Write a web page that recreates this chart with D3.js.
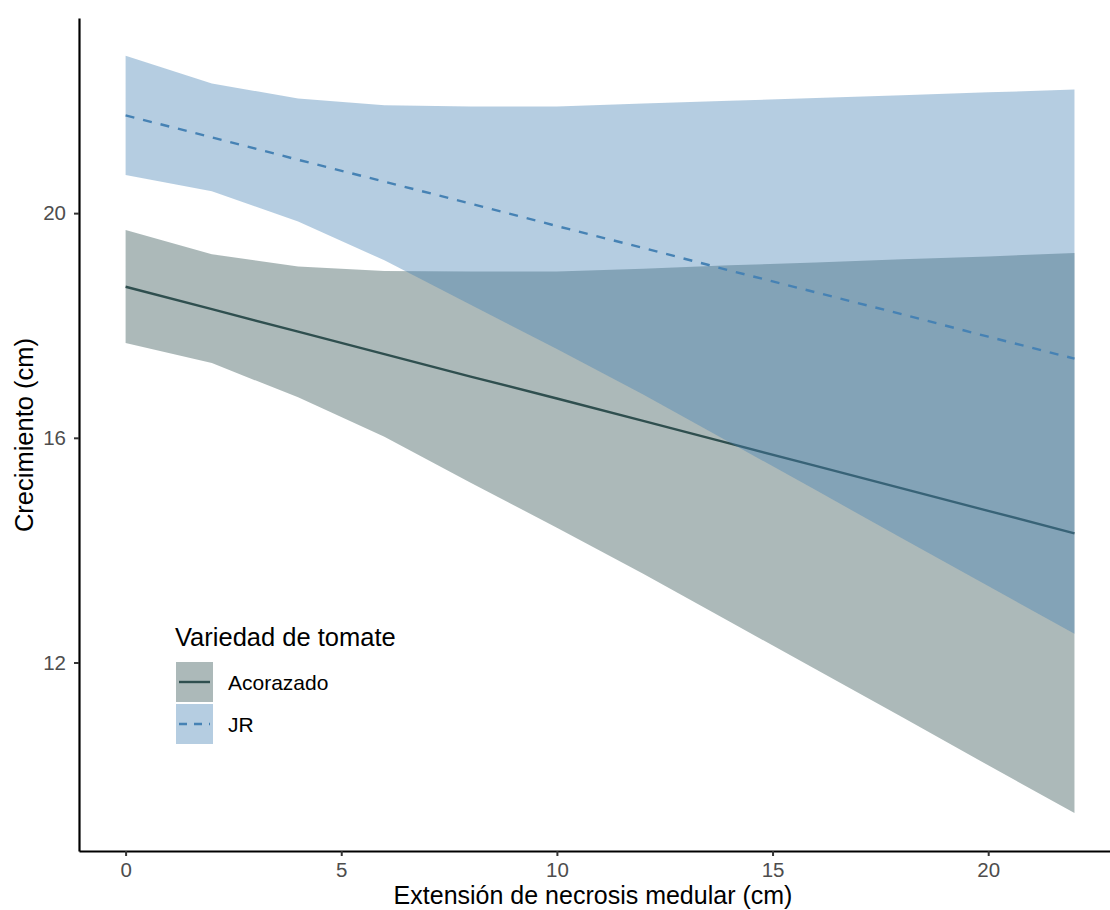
<!DOCTYPE html>
<html>
<head>
<meta charset="utf-8">
<script src="https://cdn.jsdelivr.net/npm/d3@7"></script>
<style>
  html, body { margin: 0; padding: 0; background: #fff; }
  svg { display: block; font-family: "Liberation Sans", Arial, Helvetica, sans-serif; }
</style>
</head>
<body>
<svg id="chart" width="1110" height="910"></svg>
<script>
// Predicted growth vs. medullary necrosis extent, by tomato variety
const necrosis = [0, 2, 4, 6, 8, 10, 12, 14, 16, 18, 20, 22];

const acorazadoFit   = [18.69, 18.29, 17.89, 17.49, 17.09, 16.70, 16.30, 15.90, 15.50, 15.10, 14.70, 14.30];
const acorazadoLow   = [17.69, 17.33, 16.72, 16.02, 15.20, 14.40, 13.58, 12.73, 11.88, 11.03, 10.17, 9.32];
const acorazadoHigh  = [19.70, 19.27, 19.05, 18.97, 18.96, 18.96, 19.01, 19.07, 19.12, 19.18, 19.23, 19.29];

const jrFit  = [21.74, 21.35, 20.95, 20.56, 20.17, 19.77, 19.38, 18.98, 18.59, 18.20, 17.80, 17.41];
const jrLow  = [20.68, 20.39, 19.85, 19.16, 18.37, 17.58, 16.77, 15.92, 15.07, 14.21, 13.36, 12.51];
const jrHigh = [22.80, 22.31, 22.04, 21.92, 21.90, 21.90, 21.95, 22.00, 22.05, 22.10, 22.15, 22.20];

const varieties = ["Acorazado", "JR"];
const xTicks = [0, 5, 10, 15, 20];
const yTicks = [12, 16, 20];

const series = [
  { name: varieties[0], fit: acorazadoFit, low: acorazadoLow, high: acorazadoHigh,
    color: "#2f4f4f", dash: null },
  { name: varieties[1], fit: jrFit, low: jrLow, high: jrHigh,
    color: "#4682b4", dash: "9,9" }
];

const svg = d3.select("#chart");
const panel = { left: 79, right: 1110, top: 18, bottom: 851 };

// x: 0 → 125.6 px, 20 → 988.2 px
const pxPerUnit = (988.2 - 125.6) / 20;
const x = d3.scaleLinear()
  .domain([(panel.left - 125.6) / pxPerUnit, (panel.right - 125.6) / pxPerUnit])
  .range([panel.left, panel.right]);
const y = d3.scaleLinear().domain([8.644, 23.474]).range([panel.bottom, panel.top]);

const area = d3.area()
  .x((d) => x(d.x)).y0((d) => y(d.lo)).y1((d) => y(d.hi));
const line = d3.line().x((d) => x(d.x)).y((d) => y(d.v));

series.forEach((s) => {
  const rows = necrosis.map((n, i) => ({ x: n, v: s.fit[i], lo: s.low[i], hi: s.high[i] }));
  svg.append("path")
    .attr("d", area(rows))
    .attr("fill", s.color)
    .attr("fill-opacity", 0.4);
  svg.append("path")
    .attr("d", line(rows))
    .attr("fill", "none")
    .attr("stroke", s.color)
    .attr("stroke-width", 2.4)
    .attr("stroke-dasharray", s.dash);
});

// Axes
const xAxis = svg.append("g")
  .attr("transform", `translate(0,${panel.bottom})`)
  .call(d3.axisBottom(x).tickValues(xTicks).tickSize(5).tickPadding(6).tickSizeOuter(0));
const yAxis = svg.append("g")
  .attr("transform", `translate(${panel.left},0)`)
  .call(d3.axisLeft(y).tickValues(yTicks).tickSize(5).tickPadding(8).tickSizeOuter(0));

[xAxis, yAxis].forEach((g) => {
  g.select(".domain").attr("stroke", "#000").attr("stroke-width", 2.2);
  g.selectAll(".tick line").attr("stroke", "#333").attr("stroke-width", 2);
  g.selectAll(".tick text")
    .attr("fill", "#4d4d4d")
    .style("font-size", "20.5px")
    .style("font-family", "Liberation Sans, Arial, sans-serif");
});

// Axis titles
svg.append("text")
  .attr("x", 593).attr("y", 904)
  .attr("text-anchor", "middle")
  .style("font-size", "25px")
  .attr("fill", "#000")
  .text("Extensión de necrosis medular (cm)");

svg.append("text")
  .attr("transform", "translate(33,435) rotate(-90)")
  .attr("text-anchor", "middle")
  .style("font-size", "25.5px")
  .attr("fill", "#000")
  .text("Crecimiento (cm)");

// Legend
const legend = svg.append("g").attr("transform", "translate(175,0)");
legend.append("text")
  .attr("x", 0).attr("y", 646)
  .style("font-size", "25.5px")
  .attr("fill", "#000")
  .text("Variedad de tomate");

series.forEach((s, i) => {
  const ky = 662 + i * 42;
  legend.append("rect")
    .attr("x", 1).attr("y", ky)
    .attr("width", 37).attr("height", 40)
    .attr("fill", s.color).attr("fill-opacity", 0.4);
  legend.append("line")
    .attr("x1", 4).attr("x2", 35)
    .attr("y1", ky + 20).attr("y2", ky + 20)
    .attr("stroke", s.color)
    .attr("stroke-width", 2.4)
    .attr("stroke-dasharray", s.dash ? "8,7" : null);
  legend.append("text")
    .attr("x", 53).attr("y", ky + 21)
    .attr("dy", "0.35em")
    .style("font-size", "21px")
    .attr("fill", "#000")
    .text(s.name);
});
</script>
</body>
</html>
